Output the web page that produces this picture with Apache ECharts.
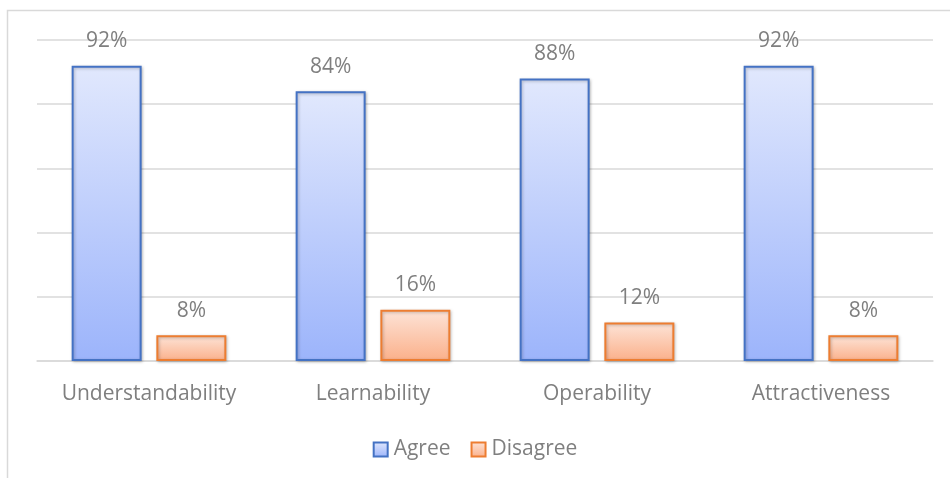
<!DOCTYPE html>
<html>
<head>
<meta charset="utf-8">
<script src="https://cdn.jsdelivr.net/npm/echarts@6/dist/echarts.min.js"></script>
<style>
  html, body { margin: 0; padding: 0; background: #fff; }
  #main { width: 950px; height: 478px; }
</style>
</head>
<body>
<div id="main"></div>
<script>
var categories = ["Understandability", "Learnability", "Operability", "Attractiveness"];
var agree = [92, 84, 88, 92];
var disagree = [8, 16, 12, 8];
var seriesNames = ["Agree", "Disagree"];

var chart = echarts.init(document.getElementById("main"));

function grad(top, bottom) {
  return new echarts.graphic.LinearGradient(0, 0, 0, 1, [
    { offset: 0, color: top },
    { offset: 1, color: bottom }
  ]);
}

var labelStyle = {
  show: true,
  position: "top",
  distance: 14,
  color: "#7f7f7f",
  fontSize: 21,
  fontFamily: "Open Sans",
  formatter: "{c}%"
};

chart.setOption({
  animation: false,
  graphic: [
    {
      type: "rect",
      shape: { x: 7.5, y: 10.5, width: 960, height: 480 },
      style: { fill: "none", stroke: "#d9d9d9", lineWidth: 1.5 },
      silent: true
    }
  ],
  grid: { left: 37, right: 17, top: 40, bottom: 117 },
  legend: {
    bottom: 13,
    left: "center",
    itemWidth: 14,
    itemHeight: 14,
    itemGap: 20,
    icon: "rect",
    textStyle: { color: "#7f7f7f", fontSize: 21, fontFamily: "Open Sans", padding: [0, 0, 0, 1] },
    data: seriesNames
  },
  xAxis: {
    type: "category",
    data: categories,
    axisLine: { lineStyle: { color: "#d9d9d9", width: 1.5 } },
    axisTick: { show: false },
    axisLabel: { interval: 0, hideOverlap: false, color: "#7f7f7f", fontSize: 21, fontFamily: "Open Sans", margin: 23 }
  },
  yAxis: {
    type: "value",
    min: 0,
    max: 100,
    interval: 20,
    axisLabel: { show: false },
    axisLine: { show: false },
    axisTick: { show: false },
    splitLine: { lineStyle: { color: "#d9d9d9", width: 1.5 } }
  },
  series: [
    {
      name: seriesNames[0],
      type: "bar",
      data: agree,
      barWidth: 70,
      barGap: "21%",
      itemStyle: {
        color: grad("#e1e8fd", "#9cb4fb"),
        borderColor: "#4472c4",
        borderWidth: 2,
        shadowColor: "rgba(0,0,0,0.25)",
        shadowBlur: 3,
        shadowOffsetX: 1,
        shadowOffsetY: 1
      },
      label: labelStyle
    },
    {
      name: seriesNames[1],
      type: "bar",
      data: disagree,
      barWidth: 70,
      itemStyle: {
        color: grad("#fde4d8", "#fbb08a"),
        borderColor: "#ed7d31",
        borderWidth: 2,
        shadowColor: "rgba(0,0,0,0.25)",
        shadowBlur: 3,
        shadowOffsetX: 1,
        shadowOffsetY: 1
      },
      label: labelStyle
    }
  ]
});
</script>
</body>
</html>
